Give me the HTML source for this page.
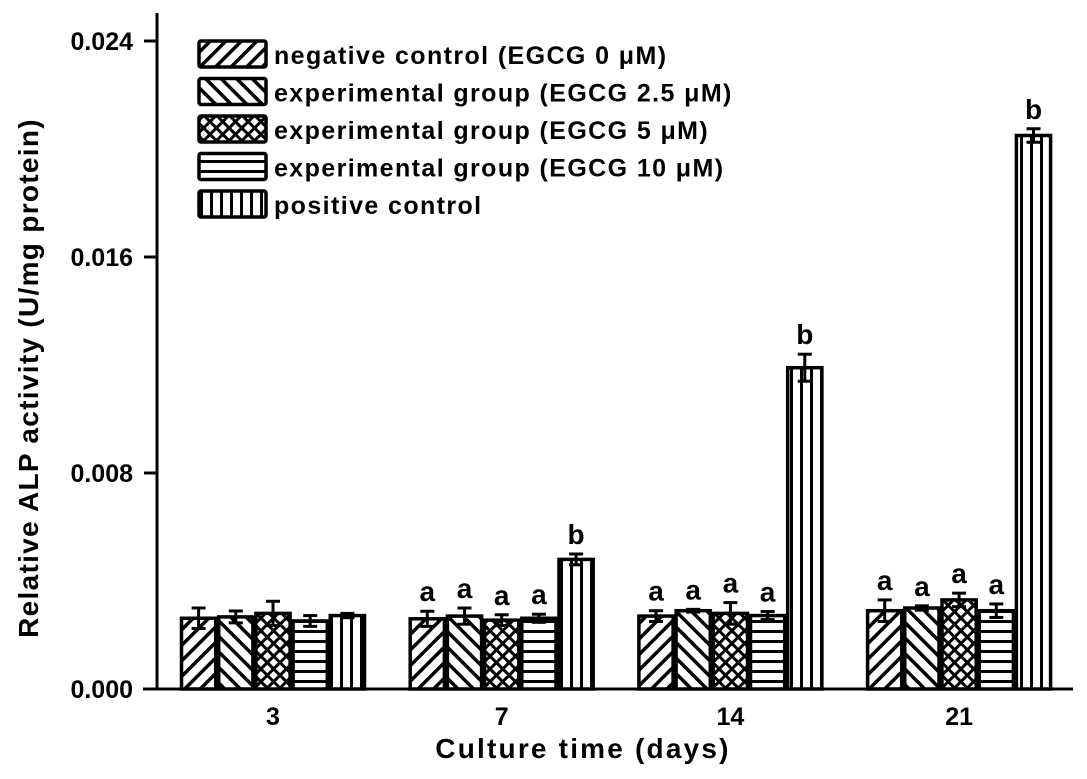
<!DOCTYPE html>
<html><head><meta charset="utf-8"><style>
body{margin:0;background:#fff;}
svg text{font-family:"Liberation Sans",Arial,sans-serif;font-weight:bold;fill:#000;}
</style></head><body>
<svg id="chart" width="1087" height="774" viewBox="0 0 1087 774" xmlns="http://www.w3.org/2000/svg">
<defs>
<pattern id="p0" patternUnits="userSpaceOnUse" width="11" height="11" patternTransform="rotate(45)"><rect width="11" height="11" fill="#fff"/><rect x="0" y="0" width="3.5" height="11" fill="#000"/></pattern>
<pattern id="p1" patternUnits="userSpaceOnUse" width="11" height="11" patternTransform="rotate(-45)"><rect width="11" height="11" fill="#fff"/><rect x="0" y="0" width="3.5" height="11" fill="#000"/></pattern>
<pattern id="p2" patternUnits="userSpaceOnUse" width="9" height="9" patternTransform="rotate(45)"><rect width="9" height="9" fill="#000"/><rect x="2" y="2" width="6" height="6" fill="#fff"/></pattern>
<pattern id="p3" patternUnits="userSpaceOnUse" width="10" height="10"><rect width="10" height="10" fill="#fff"/><rect x="0" y="0" width="10" height="3" fill="#000"/></pattern>
<pattern id="p4" patternUnits="userSpaceOnUse" width="10" height="10"><rect width="10" height="10" fill="#fff"/><rect x="0" y="0" width="3" height="10" fill="#000"/></pattern>
</defs>
<g id="bars"></g>
<g id="axes"></g>
<g id="legend"></g>
</svg>
<script>
const categories = ["3","7","14","21"];
const seriesNames = ["negative control (EGCG 0 \u03bcM)","experimental group (EGCG 2.5 \u03bcM)","experimental group (EGCG 5 \u03bcM)","experimental group (EGCG 10 \u03bcM)","positive control"];
const s0 = [0.00262,0.00260,0.00270,0.00290];
const s1 = [0.00267,0.00270,0.00290,0.00300];
const s2 = [0.00280,0.00255,0.00280,0.00330];
const s3 = [0.00252,0.00262,0.00272,0.00290];
const s4 = [0.00272,0.00480,0.01190,0.02050];
const e0 = [0.00038,0.00028,0.00020,0.00040];
const e1 = [0.00022,0.00030,0.00005,0.00008];
const e2 = [0.00045,0.00020,0.00040,0.00025];
const e3 = [0.00020,0.00015,0.00015,0.00025];
const e4 = [0.00008,0.00020,0.00050,0.00025];
const labels0 = ["","a","a","a"];
const labels1 = ["","a","a","a"];
const labels2 = ["","a","a","a"];
const labels3 = ["","a","a","a"];
const labels4 = ["","b","b","b"];
const yTicks = [0,0.008,0.016,0.024];
const yTickLabels = ["0.000","0.008","0.016","0.024"];

const NS="http://www.w3.org/2000/svg";
const X0=157, Y0=689, PX_PER=216/0.008;
function y(v){return Y0 - v*PX_PER;}
function xc(i){return 273 + i*228.7;}
const BW=37.2;
function mk(tag,parent,attrs){const e=document.createElementNS(NS,tag);for(const k in attrs)e.setAttribute(k,attrs[k]);parent.appendChild(e);return e;}
const series=[s0,s1,s2,s3,s4], errs=[e0,e1,e2,e3,e4], labs=[labels0,labels1,labels2,labels3,labels4];
const gb=document.getElementById('bars');
categories.forEach((c,i)=>{
  series.forEach((s,j)=>{
    const x=xc(i)+(j-2.5)*BW, v=s[i], top=y(v);
    const r=mk('rect',gb,{x:x+1.5,y:top,width:BW-3,height:Y0-top,fill:'url(#p'+j+')',stroke:'#000','stroke-width':3.5});
    
    
    const cx=x+BW/2, et=y(v+errs[j][i]), eb=y(v-errs[j][i]);
    const eg=mk('g',gb,{stroke:'#000','stroke-width':3});
    
    
    mk('line',eg,{x1:cx,y1:et,x2:cx,y2:eb});
    mk('line',eg,{x1:cx-7,y1:et,x2:cx+7,y2:et});
    mk('line',eg,{x1:cx-7,y1:eb,x2:cx+7,y2:eb});
    if(labs[j][i]){
      const t=mk('text',gb,{x:cx,y:et-10,'text-anchor':'middle','font-size':28});
      t.textContent=labs[j][i];
      
      
    }
  });
});
const ga=document.getElementById('axes');
const ya=mk('line',ga,{x1:X0,y1:13,x2:X0,y2:Y0+1.5,stroke:'#000','stroke-width':3});


const xa=mk('line',ga,{x1:143,y1:Y0,x2:1073,y2:Y0,stroke:'#000','stroke-width':3});


yTicks.forEach((v,k)=>{
  mk('line',ga,{x1:X0-13,y1:y(v),x2:X0,y2:y(v),stroke:'#000','stroke-width':3});
  const t=mk('text',ga,{x:X0-24,y:y(v)+9,'text-anchor':'end','font-size':25});
  t.textContent=yTickLabels[k];
  
  
});
categories.forEach((c,i)=>{
  const t=mk('text',ga,{x:xc(i),y:725,'text-anchor':'middle','font-size':25});
  t.textContent=c;
  
  
});
const xt=mk('text',ga,{x:583,y:758,'text-anchor':'middle','font-size':28,'letter-spacing':2.2});
xt.textContent='Culture time (days)';


const yt=mk('text',ga,{x:0,y:0,'text-anchor':'middle','font-size':28,'letter-spacing':1.3,transform:'translate(38,378) rotate(-90)'});
yt.textContent='Relative ALP activity (U/mg protein)';


const gl=document.getElementById('legend');
seriesNames.forEach((n,j)=>{
  const yy=41+j*37.5;
  const g=mk('g',gl,{});
  
  
  mk('rect',g,{x:199,y:yy,width:67,height:26,fill:'url(#p'+j+')',stroke:'#000','stroke-width':3.5,rx:2});
  const t=mk('text',g,{x:274,y:yy+23,'font-size':25,'letter-spacing':1.4});
  t.textContent=n;
});
</script>
</body></html>
